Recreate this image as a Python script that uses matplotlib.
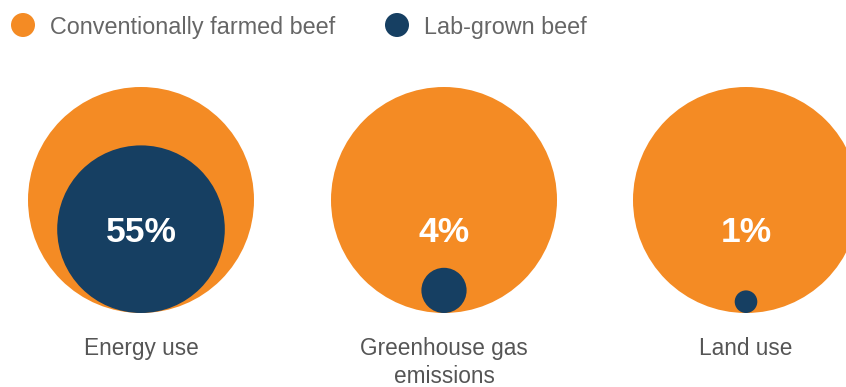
import numpy as np
import matplotlib
matplotlib.use("Agg")
import matplotlib.pyplot as plt
from matplotlib.patches import Circle

plt.rcParams['font.family'] = ['Liberation Sans', 'DejaVu Sans']

# data: lab-grown beef as share of conventionally farmed beef
categories = ['Energy use', 'Greenhouse gas\nemissions', 'Land use']
lab_pct = [55, 4, 1]
pct_labels = ['55%', '4%', '1%']
series = ['Conventionally farmed beef', 'Lab-grown beef']

orange = '#F48B24'
navy = '#163F62'

fig = plt.figure(figsize=(8.46, 3.87), dpi=100)
ax = fig.add_axes([0, 0, 1, 1])
ax.set_xlim(0, 846)
ax.set_ylim(387, 0)
ax.set_aspect('equal')
ax.axis('off')

R = 113          # radius of the 100% circle
cx = [141, 444, 746]
cy = 200

for i in range(len(categories)):
    ax.add_patch(Circle((cx[i], cy), R, color=orange, lw=0))
    r = R * np.sqrt(lab_pct[i] / 100)
    # lab circle sits on the bottom of the big one
    ax.add_patch(Circle((cx[i], cy + R - r), r, color=navy, lw=0))
    ax.text(cx[i], 232, pct_labels[i], color='white', fontsize=25.5,
            fontweight='bold', ha='center', va='center')
    ax.text(cx[i], 337, categories[i], color='#555555', fontsize=16.3,
            ha='center', va='top', linespacing=1.3)

# legend
ax.add_patch(Circle((23, 25), 12, color=orange, lw=0))
ax.text(50, 25, series[0], color='#666666', fontsize=16.8, va='center_baseline', ha='left')
ax.add_patch(Circle((397, 25), 12, color=navy, lw=0))
ax.text(424, 25, series[1], color='#666666', fontsize=16.8, va='center_baseline', ha='left')

fig.savefig('out.png', dpi=100)
